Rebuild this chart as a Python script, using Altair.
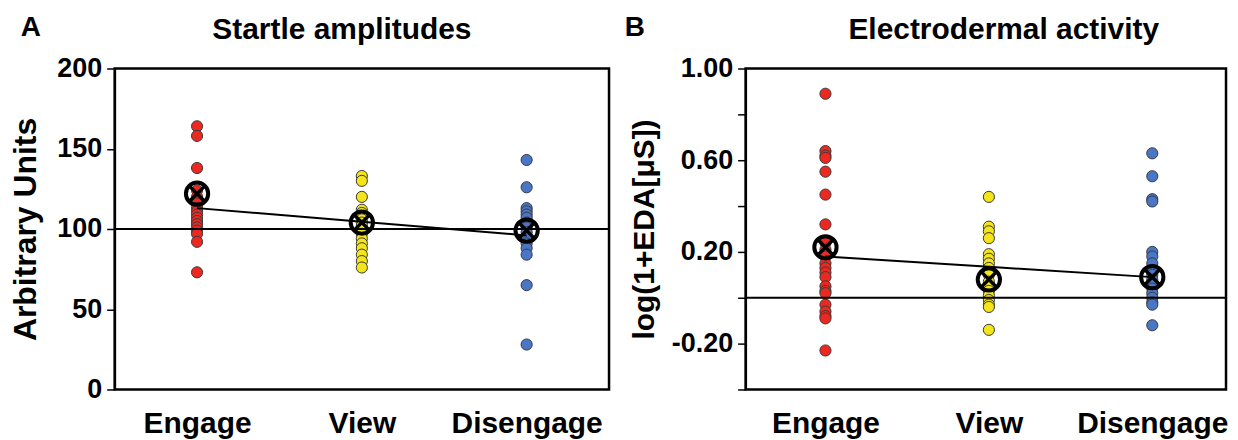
import altair as alt
import pandas as pd

conds = ["Engage", "View", "Disengage"]
colors = ["#ec2820", "#f4e41a", "#4a76c6"]

# Panel A: Startle amplitudes (arbitrary units)
a_engage = [164, 158, 138, 124, 120, 116, 113, 111, 109, 107, 105, 103, 101, 99, 97, 92, 73]
a_view = [133, 130, 120, 112, 110, 108, 106, 104, 102, 100, 97, 94, 91, 88, 84, 80, 76]
a_dis = [143, 126, 113, 111, 109, 107, 104, 101, 98, 95, 91, 88, 84, 65, 28]
a_mean = [122, 104, 99]
a_fit = [113, 104.5, 96]
a_ref = 100
a_ticks = [0, 50, 100, 150, 200]
a_tick_labels = ["0", "50", "100", "150", "200"]

# Panel B: Electrodermal activity log(1+EDA[µS])
b_engage = [0.89, 0.64, 0.62, 0.61, 0.55, 0.45, 0.32, 0.24, 0.21, 0.18, 0.15, 0.13,
            0.11, 0.09, 0.05, 0.03, 0.02, -0.03, -0.06, -0.08, -0.09, -0.23]
b_view = [0.44, 0.31, 0.29, 0.26, 0.19, 0.17, 0.15, 0.13, 0.10, 0.07, 0.05, 0.03,
          0.01, -0.01, -0.03, -0.04, -0.14]
b_dis = [0.63, 0.53, 0.43, 0.42, 0.20, 0.18, 0.15, 0.12, 0.10, 0.08, 0.06, 0.04,
         0.02, 0.00, -0.02, -0.03, -0.12]
b_mean = [0.22, 0.08, 0.09]
b_fit = [0.18, 0.135, 0.09]
b_ref = 0
b_ticks = [-0.4, -0.2, 0.0, 0.2, 0.4, 0.6, 0.8, 1.0]
b_tick_labels = ["", "-0.20", "", "0.20", "", "0.60", "", "1.00"]

FONT = "Liberation Sans"


def label_expr(ticks, labels):
    expr = "''"
    for t, l in reversed(list(zip(ticks, labels))):
        expr = f"abs(datum.value - ({t})) < 1e-6 ? '{l}' : ({expr})"
    return expr


def panel(groups, means, fit, ref, domain, ticks, tick_labels, ytitle, ytitle_size,
          ytitle_pad, title, letter, width, height, title_dx, letter_x, letter_y,
          xpad, xalign):
    rows = []
    for c, vs in zip(conds, groups):
        for v in vs:
            rows.append({"cond": c, "value": v})
    pts = pd.DataFrame(rows)
    summ = pd.DataFrame({"cond": conds, "value": means})
    fitdf = pd.DataFrame({"cond": conds, "value": fit})
    refdf = pd.DataFrame({"value": [ref]})
    letdf = pd.DataFrame({"t": [letter]})
    titdf = pd.DataFrame({"t": [title]})

    xscale = alt.Scale(type="point", domain=conds, padding=xpad, align=xalign)
    yscale = alt.Scale(domain=domain, nice=False, zero=False)

    xaxis = alt.Axis(title=None, labelAngle=0, ticks=False, domain=False,
                     labelPadding=19, labelFontSize=30, labelFont=FONT,
                     labelFontWeight="bold", labelColor="black")
    yaxis = alt.Axis(values=ticks, labelExpr=label_expr(ticks, tick_labels),
                     title=ytitle, grid=False, domainColor="black", domainWidth=2,
                     tickColor="black", tickWidth=1.5, tickSize=8,
                     labelFont=FONT, labelFontSize=27, labelFontWeight="bold",
                     labelColor="black", labelPadding=5,
                     titleFont=FONT, titleFontSize=ytitle_size, titleFontWeight="bold",
                     titleColor="black", titlePadding=ytitle_pad)

    points = alt.Chart(pts).mark_circle(size=125, opacity=1, stroke="#3a3a3a",
                                        strokeWidth=1).encode(
        x=alt.X("cond:N", scale=xscale, axis=xaxis, sort=conds),
        y=alt.Y("value:Q", scale=yscale, axis=yaxis),
        color=alt.Color("cond:N", scale=alt.Scale(domain=conds, range=colors),
                        legend=None),
    )
    rule = alt.Chart(refdf).mark_rule(color="black", strokeWidth=2).encode(
        y=alt.Y("value:Q", scale=yscale))
    line = alt.Chart(fitdf).mark_line(color="black", strokeWidth=2).encode(
        x=alt.X("cond:N", scale=xscale, sort=conds),
        y=alt.Y("value:Q", scale=yscale))
    ring = alt.Chart(summ).mark_point(shape="circle", size=500, filled=False,
                                      color="black", strokeWidth=4,
                                      opacity=1).encode(
        x=alt.X("cond:N", scale=xscale, sort=conds),
        y=alt.Y("value:Q", scale=yscale))
    cross = alt.Chart(summ).mark_point(shape="M-1,-1L1,1M-1,1L1,-1", size=200,
                                       filled=False, color="black",
                                       strokeWidth=3.5, opacity=1).encode(
        x=alt.X("cond:N", scale=xscale, sort=conds),
        y=alt.Y("value:Q", scale=yscale))
    let = alt.Chart(letdf).mark_text(font=FONT, fontSize=28, fontWeight="bold",
                                     color="black", align="center",
                                     baseline="middle").encode(
        text="t:N", x=alt.value(letter_x), y=alt.value(letter_y))
    tit = alt.Chart(titdf).mark_text(font=FONT, fontSize=30, fontWeight="bold",
                                     color="black", align="center",
                                     baseline="alphabetic").encode(
        text="t:N", x=alt.value(width / 2 + title_dx), y=alt.value(-30))

    return alt.layer(points, rule, line, ring, cross, let, tit).properties(
        width=width, height=height)


pa = panel([a_engage, a_view, a_dis], a_mean, a_fit, a_ref, [0, 200], a_ticks,
           a_tick_labels, "Arbitrary Units", 32, 14, "Startle amplitudes", "A",
           496, 322, -20, -84, -41, 0.5, 0.5)
pb = panel([b_engage, b_view, b_dis], b_mean, b_fit, b_ref, [-0.4, 1.0], b_ticks,
           b_tick_labels, "log(1+EDA[μS])", 30, 12, "Electrodermal activity", "B",
           482, 322, 18, -111, -41, 0.47, 0.52)

chart = alt.hconcat(pa, pb, spacing=137, bounds="flush").configure_view(
    stroke="black", strokeWidth=2.5
).properties(padding={"left": 0, "top": 3, "right": 0, "bottom": 0})

chart.save("out.html", embed_options={"renderer": "svg", "actions": False})
